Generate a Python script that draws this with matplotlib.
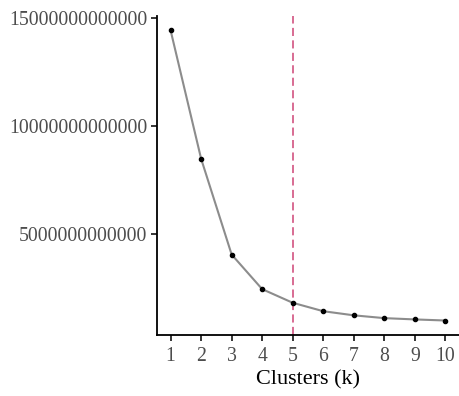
import matplotlib
matplotlib.use("Agg")
import matplotlib.pyplot as plt

# elbow plot data
k_values = [1, 2, 3, 4, 5, 6, 7, 8, 9, 10]
wss = [14.43e12, 8.49e12, 4.06e12, 2.46e12, 1.83e12,
       1.44e12, 1.25e12, 1.12e12, 1.06e12, 1.01e12]
best_k = 5
y_ticks = [5000000000000, 10000000000000, 15000000000000]

plt.rcParams['font.family'] = ['Liberation Serif', 'DejaVu Serif']

fig = plt.figure(figsize=(4.6, 3.96), dpi=100)
ax = fig.add_axes([0.341, 0.154, 0.657, 0.806])

ax.plot(k_values, wss, color='#8c8c8c', lw=1.5, zorder=2)
ax.scatter(k_values, wss, s=9, color='black', zorder=3)
ax.axvline(best_k, color='#d6608a', lw=1.3, ls=(0, (4.5, 2.4)), zorder=1)

xr = max(k_values) - min(k_values)
ax.set_xlim(min(k_values) - 0.05 * xr, max(k_values) + 0.05 * xr)
yr = max(wss) - min(wss)
ax.set_ylim(min(wss) - 0.05 * yr, max(wss) + 0.05 * yr)

ax.set_xticks(k_values)
ax.set_xticklabels([str(k) for k in k_values])
ax.set_yticks(y_ticks)
ax.set_yticklabels([str(v) for v in y_ticks])

for s in ['top', 'right']:
    ax.spines[s].set_visible(False)
for s in ['left', 'bottom']:
    ax.spines[s].set_linewidth(1.3)
    ax.spines[s].set_color('black')

ax.tick_params(axis='both', length=4, width=1.1, color='black',
               labelsize=14.2, labelcolor='#4d4d4d', pad=3)
ax.tick_params(axis='x', pad=4.5)
ax.set_xlabel("Clusters (k)", fontsize=16, color='black', labelpad=3)

fig.savefig("out.png", dpi=100)
